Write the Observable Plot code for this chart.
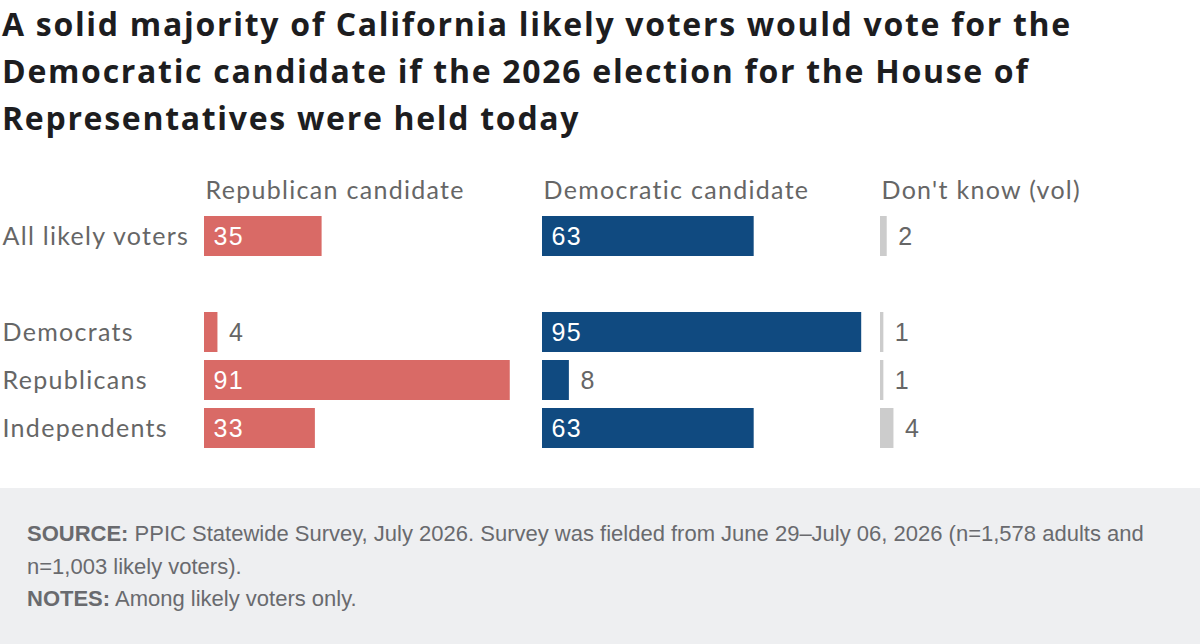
<!DOCTYPE html>
<html><head><meta charset="utf-8">
<script src="https://cdn.jsdelivr.net/npm/d3@7"></script>
<script src="https://cdn.jsdelivr.net/npm/@observablehq/plot@0.6"></script>
<style>
html,body{margin:0;padding:0;background:#fff;}
body{width:1200px;height:644px;position:relative;overflow:hidden;font-family:Lato,"Open Sans",sans-serif;}
#title{position:absolute;top:0;left:2px;margin:0;font:700 32px/47px "Open Sans",sans-serif;letter-spacing:1.7px;color:#1d1d1f;white-space:nowrap;}
#chart{position:absolute;top:160px;left:0;}
#footer{position:absolute;top:488px;left:0;width:1200px;height:156px;background:#eeeff1;box-sizing:border-box;padding:30px 0 0 27px;font:22px/32.5px "Liberation Sans",Arial,sans-serif;color:#696a6e;white-space:nowrap;}
#footer b{font-weight:700;}
</style>
</head><body>
<h1 id="title">A solid majority of California likely voters would vote for the<br>Democratic candidate if the 2026 election for the House of<br>Representatives were held today</h1>
<div id="chart"></div>
<div id="footer"><b>SOURCE:</b> PPIC Statewide Survey, July 2026. Survey was fielded from June 29–July 06, 2026 (n=1,578 adults and<br>n=1,003 likely voters).<br><b>NOTES:</b> Among likely voters only.</div>
<script>
const groups = ["All likely voters", "Democrats", "Republicans", "Independents"];
const responses = ["Republican candidate", "Democratic candidate", "Don't know (vol)"];
const republican = [35, 4, 91, 33];
const democratic = [63, 95, 8, 63];
const dontKnow = [2, 1, 1, 4];
const colors = ["#d96a66", "#104a80", "#cccccc"];

const series = [republican, democratic, dontKnow];
const rows = [];
responses.forEach((r, i) => groups.forEach((g, j) => rows.push({response: r, group: g, value: series[i][j]})));
const yDomain = [groups[0], " ", ...groups.slice(1)];
const inside = rows.filter(d => d.value >= 10);
const outside = rows.filter(d => d.value < 10);

const chart = Plot.plot({
  width: 1200,
  height: 306,
  marginLeft: 204,
  marginRight: 0,
  marginTop: 48,
  marginBottom: 10,
  style: {fontFamily: "Lato, sans-serif", background: "transparent", overflow: "visible"},
  fx: {domain: responses, paddingInner: 18 / 338, paddingOuter: 0, align: 0, axis: null},
  x: {domain: [0, 320 / 3.36], axis: null},
  y: {domain: yDomain, paddingInner: 1 / 6, paddingOuter: 1 / 6, axis: null},
  color: {domain: responses, range: colors},
  marks: [
    Plot.barX(rows, {fx: "response", y: "group", x: "value", fill: "response"}),
    Plot.text(inside, {fx: "response", y: "group", x: 0, text: d => String(d.value), dx: 9, textAnchor: "start", fill: "white", fontFamily: "Liberation Sans, Arial, sans-serif", fontSize: 25}),
    Plot.text(outside, {fx: "response", y: "group", x: "value", text: d => String(d.value), dx: 11, textAnchor: "start", fill: "#666", fontFamily: "Liberation Sans, Arial, sans-serif", fontSize: 25}),
    Plot.text(responses, {fx: d => d, text: d => d, frameAnchor: "top-left", dx: 1, dy: -18, textAnchor: "start", lineAnchor: "middle", fill: "#666", fontSize: 25}),
    Plot.text(groups, {fx: () => responses[0], y: d => d, text: d => d, frameAnchor: "left", dx: -202, textAnchor: "start", fill: "#666", fontSize: 25})
  ]
});
chart.style.letterSpacing = "1.3px";
chart.querySelectorAll("text[font-family]").forEach(t => t.style.letterSpacing = "0px");
document.getElementById("chart").appendChild(chart);
</script>
</body></html>
